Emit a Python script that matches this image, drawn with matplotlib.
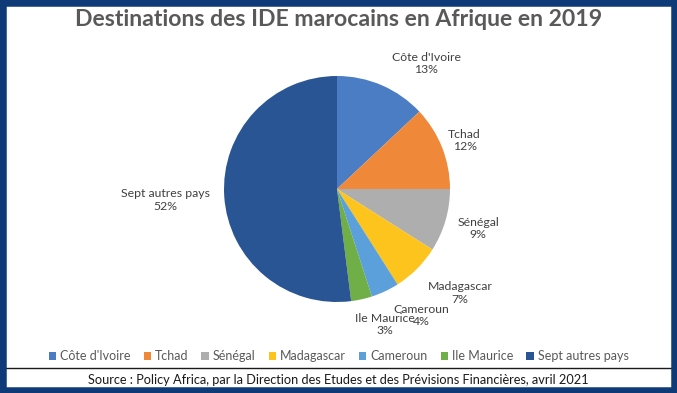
import matplotlib.pyplot as plt
from matplotlib.patches import Rectangle, Patch
from matplotlib.lines import Line2D

# données
pays = ["Côte d'Ivoire", "Tchad", "Sénégal", "Madagascar", "Cameroun", "Ile Maurice", "Sept autres pays"]
parts = [13, 12, 9, 7, 4, 3, 52]
couleurs = ["#4A7DC4", "#F0883A", "#AEAEAE", "#FCC41C", "#5B9FDB", "#70AE48", "#2A5594"]
# position des étiquettes (unités du rayon)
pos_etiq = [(0.79, 1.11), (1.13, 0.43), (1.25, -0.35), (1.09, -0.92),
            (0.75, -1.12), (0.42, -1.20), (-1.52, -0.10)]

W, H = 677, 393
fig = plt.figure(figsize=(W / 100, H / 100), dpi=100)
fig.patch.set_facecolor("white")

# cadre bleu
fig.patches.append(Rectangle((0, 0), 1, 1, transform=fig.transFigure, fill=False,
                             edgecolor="#0E3A78", linewidth=9, zorder=10))

# camembert
cx, cy, R = 337, H - 189, 113
k = 1.8
ax = fig.add_axes([(cx - k * R) / W, (cy - k * R) / H, 2 * k * R / W, 2 * k * R / H])
ax.pie(parts, colors=couleurs, startangle=90, counterclock=False, radius=1,
       wedgeprops=dict(linewidth=0))
ax.set_xlim(-k, k)
ax.set_ylim(-k, k)
ax.set_aspect("equal")
ax.axis("off")

for nom, v, (x, y) in zip(pays, parts, pos_etiq):
    ax.text(x, y, f"{nom}\n{v}%", ha="center", va="center", fontsize=8.8,
            family="Lato", color="#404040", linespacing=1.2)

# titre
fig.text(0.5, 1 - 20 / H, "Destinations des IDE marocains en Afrique en 2019",
         ha="center", va="center", fontsize=16.6, fontweight="bold",
         family="Lato", color="#595959")

# légende
handles = [Patch(facecolor=c, edgecolor="none") for c in couleurs]
fig.legend(handles, pays, loc="center", bbox_to_anchor=(0.5, 1 - 356 / H), ncol=7,
           frameon=False, handlelength=0.6, handleheight=0.6,
           handletextpad=0.3, columnspacing=1.05, labelcolor="#595959",
           prop=dict(family="Lato", size=9))

# séparation + source
fig.add_artist(Line2D([0, 1], [1 - 368 / H, 1 - 368 / H], transform=fig.transFigure,
                      color="#1a1a1a", linewidth=1))
fig.text(0.5, 1 - 380 / H,
         "Source : Policy Africa, par la Direction des Etudes et des Prévisions Financières, avril 2021",
         ha="center", va="center", fontsize=9.2, family="Lato",
         color="#1a1a1a")

fig.savefig("out.png", dpi=100)
